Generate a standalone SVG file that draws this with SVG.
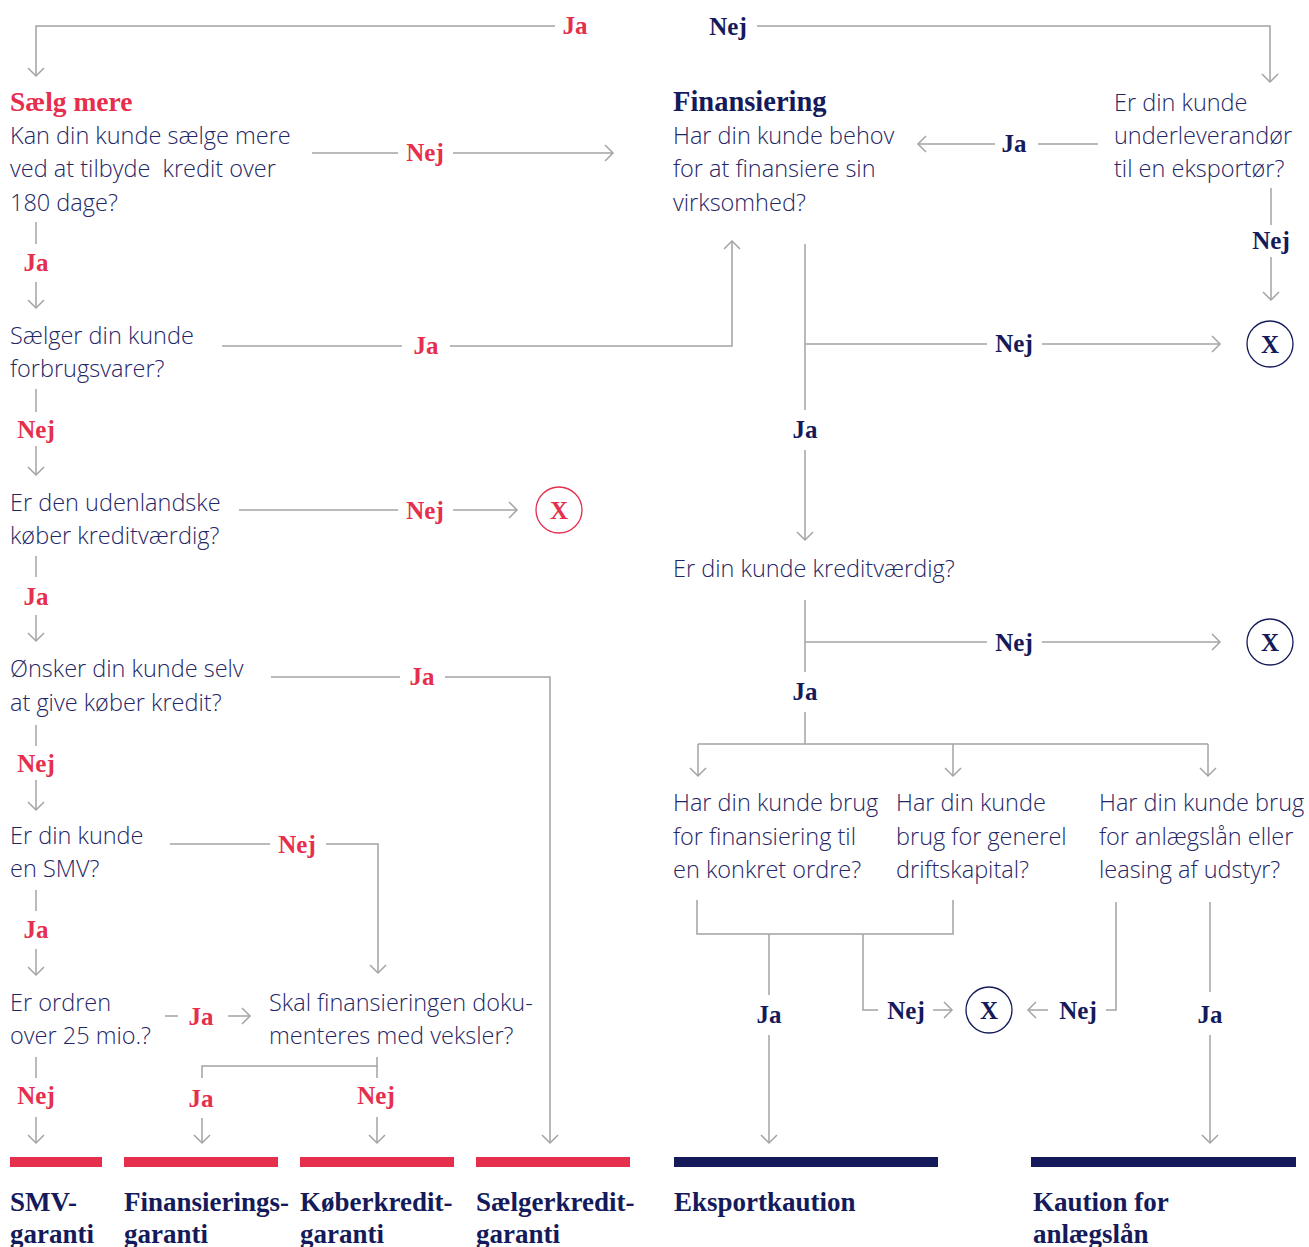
<svg xmlns="http://www.w3.org/2000/svg" width="1309" height="1247" viewBox="0 0 1309 1247">
<defs>
<style>
.t{font-family:"Open Sans","Noto Sans",sans-serif;font-weight:300;font-size:23.5px;fill:#1f2766}
.lb{font-family:"Liberation Serif",serif;font-weight:bold;font-size:25px;text-anchor:middle}
.r{fill:#e62e4d}
.n{fill:#141a5a}
.h{font-family:"Liberation Serif",serif;font-weight:bold;font-size:27px}
.c{fill:none;stroke:#a3a3a3;stroke-width:1.5}
.ca{fill:none;stroke:#a3a3a3;stroke-width:1.5;marker-end:url(#ar)}
.cr{fill:none;stroke-width:1.3}
</style>
<marker id="ar" viewBox="-10 -10 20 20" refX="0" refY="0" markerWidth="20" markerHeight="20" markerUnits="userSpaceOnUse" orient="auto" overflow="visible">
<path d="M-8,-8 L0,0 L-8,8" fill="none" stroke="#a3a3a3" stroke-width="1.5"/>
</marker>
</defs>
<rect width="1309" height="1247" fill="#fff"/>

<g id="connectors">
<path class="ca" d="M555,26 H36 V76"/>
<path class="ca" d="M757,26 H1270 V82"/>
<path class="c" d="M312,153 H398"/>
<path class="ca" d="M453,153 H613"/>
<path class="c" d="M1098,144 H1038"/>
<path class="ca" d="M995,144 H918"/>
<path class="c" d="M1271,188 V225"/>
<path class="ca" d="M1271,257 V300"/>
<path class="c" d="M36,222 V244"/>
<path class="ca" d="M36,282 V308"/>
<path class="c" d="M222,346 H402"/>
<path class="ca" d="M450,346 H732 V241"/>
<path class="c" d="M36,389 V412"/>
<path class="ca" d="M36,446 V475"/>
<path class="c" d="M239,510 H398"/>
<path class="ca" d="M453,510 H517"/>
<path class="c" d="M36,556 V577"/>
<path class="ca" d="M36,615 V641"/>
<path class="c" d="M271,677 H400"/>
<path class="ca" d="M445,677 H550 V1143"/>
<path class="c" d="M36,725 V746"/>
<path class="ca" d="M36,780 V810"/>
<path class="c" d="M170,844 H270"/>
<path class="ca" d="M326,844 H378 V973"/>
<path class="c" d="M36,890 V911"/>
<path class="ca" d="M36,949 V975"/>
<path class="c" d="M165,1016 H178"/>
<path class="ca" d="M228,1016 H250"/>
<path class="c" d="M202,1078 V1066 H377 V1057"/>
<path class="c" d="M377,1066 V1078"/>
<path class="c" d="M36,1057 V1078"/>
<path class="ca" d="M36,1117 V1143"/>
<path class="ca" d="M202,1118 V1143"/>
<path class="ca" d="M377,1117 V1143"/>
<path class="c" d="M805,244 V410"/>
<path class="ca" d="M805,450 V540"/>
<path class="c" d="M805,344 H987"/>
<path class="ca" d="M1042,344 H1220"/>
<path class="c" d="M805,600 V672"/>
<path class="c" d="M805,642 H987"/>
<path class="ca" d="M1042,642 H1220"/>
<path class="c" d="M805,712 V744"/>
<path class="c" d="M698,744 H1208"/>
<path class="ca" d="M698,744 V776"/>
<path class="ca" d="M953,744 V776"/>
<path class="ca" d="M1208,744 V776"/>
<path class="c" d="M697,900 V934 H953 V900"/>
<path class="c" d="M769,934 V995"/>
<path class="ca" d="M769,1035 V1143"/>
<path class="c" d="M863,934 V1010 H878"/>
<path class="ca" d="M933,1010 H952"/>
<path class="ca" d="M1048,1010 H1028"/>
<path class="c" d="M1106,1010 H1116 V902"/>
<path class="c" d="M1210,902 V992"/>
<path class="ca" d="M1210,1035 V1143"/>
</g>

<g id="labels">
<text class="lb r" x="575" y="34">Ja</text>
<text class="lb n" x="728" y="35">Nej</text>
<text class="lb r" x="425" y="161">Nej</text>
<text class="lb n" x="1014" y="152">Ja</text>
<text class="lb n" x="1271" y="249">Nej</text>
<text class="lb r" x="36" y="271">Ja</text>
<text class="lb r" x="426" y="354">Ja</text>
<text class="lb r" x="36" y="438">Nej</text>
<text class="lb r" x="425" y="519">Nej</text>
<text class="lb r" x="36" y="605">Ja</text>
<text class="lb r" x="422" y="685">Ja</text>
<text class="lb r" x="36" y="772">Nej</text>
<text class="lb r" x="297" y="853">Nej</text>
<text class="lb r" x="36" y="938">Ja</text>
<text class="lb r" x="201" y="1025">Ja</text>
<text class="lb r" x="36" y="1104">Nej</text>
<text class="lb r" x="201" y="1107">Ja</text>
<text class="lb r" x="376" y="1104">Nej</text>
<text class="lb n" x="1014" y="352">Nej</text>
<text class="lb n" x="805" y="438">Ja</text>
<text class="lb n" x="1014" y="651">Nej</text>
<text class="lb n" x="805" y="700">Ja</text>
<text class="lb n" x="769" y="1023">Ja</text>
<text class="lb n" x="906" y="1019">Nej</text>
<text class="lb n" x="1078" y="1019">Nej</text>
<text class="lb n" x="1210" y="1023">Ja</text>
</g>

<g id="saelg-mere">
<text class="h r" x="10" y="111" style="font-size:27.5px">Sælg mere</text>
<text class="t" x="10" y="144">Kan din kunde sælge mere</text>
<text class="t" x="10" y="177" xml:space="preserve">ved at tilbyde  kredit over</text>
<text class="t" x="10" y="211">180 dage?</text>
</g>
<g id="forbrugsvarer">
<text class="t" x="10" y="344">Sælger din kunde</text>
<text class="t" x="10" y="377">forbrugsvarer?</text>
</g>
<g id="udenlandske">
<text class="t" x="10" y="511">Er den udenlandske</text>
<text class="t" x="10" y="544">køber kreditværdig?</text>
</g>
<g id="x-red">
<circle class="cr" cx="559" cy="510" r="23" stroke="#e62e4d"/>
<text class="lb r" x="559" y="519">X</text>
</g>
<g id="oensker">
<text class="t" x="10" y="677">Ønsker din kunde selv</text>
<text class="t" x="10" y="711">at give køber kredit?</text>
</g>
<g id="smv">
<text class="t" x="10" y="844">Er din kunde</text>
<text class="t" x="10" y="877">en SMV?</text>
</g>
<g id="ordren">
<text class="t" x="10" y="1011">Er ordren</text>
<text class="t" x="10" y="1044">over 25 mio.?</text>
</g>
<g id="veksler">
<text class="t" x="269" y="1011">Skal finansieringen doku-</text>
<text class="t" x="269" y="1044">menteres med veksler?</text>
</g>

<g id="finansiering">
<text class="h n" x="673" y="111" style="font-size:28.5px">Finansiering</text>
<text class="t" x="673" y="144">Har din kunde behov</text>
<text class="t" x="673" y="177">for at finansiere sin</text>
<text class="t" x="673" y="211">virksomhed?</text>
</g>
<g id="underleverandoer">
<text class="t" x="1114" y="111">Er din kunde</text>
<text class="t" x="1114" y="144">underleverandør</text>
<text class="t" x="1114" y="177">til en eksportør?</text>
</g>
<g id="x-navy-1">
<circle class="cr" cx="1270" cy="344" r="23" stroke="#141a5a"/>
<text class="lb n" x="1270" y="353">X</text>
</g>
<g id="kreditvaerdig">
<text class="t" x="673" y="577">Er din kunde kreditværdig?</text>
</g>
<g id="x-navy-2">
<circle class="cr" cx="1270" cy="642" r="23" stroke="#141a5a"/>
<text class="lb n" x="1270" y="651">X</text>
</g>
<g id="konkret-ordre">
<text class="t" x="673" y="811">Har din kunde brug</text>
<text class="t" x="673" y="845">for finansiering til</text>
<text class="t" x="673" y="878">en konkret ordre?</text>
</g>
<g id="driftskapital">
<text class="t" x="896" y="811">Har din kunde</text>
<text class="t" x="896" y="845">brug for generel</text>
<text class="t" x="896" y="878">driftskapital?</text>
</g>
<g id="anlaegslaan-q">
<text class="t" x="1099" y="811">Har din kunde brug</text>
<text class="t" x="1099" y="845">for anlægslån eller</text>
<text class="t" x="1099" y="878">leasing af udstyr?</text>
</g>
<g id="x-navy-3">
<circle class="cr" cx="989" cy="1010" r="23" stroke="#141a5a"/>
<text class="lb n" x="989" y="1019">X</text>
</g>

<g id="smv-garanti">
<rect x="10" y="1157" width="92" height="10" fill="#e62e4d"/>
<text class="h n" x="10" y="1211">SMV-</text>
<text class="h n" x="10" y="1243">garanti</text>
</g>
<g id="finansieringsgaranti">
<rect x="124" y="1157" width="154" height="10" fill="#e62e4d"/>
<text class="h n" x="124" y="1211">Finansierings-</text>
<text class="h n" x="124" y="1243">garanti</text>
</g>
<g id="koeberkreditgaranti">
<rect x="300" y="1157" width="154" height="10" fill="#e62e4d"/>
<text class="h n" x="300" y="1211">Køberkredit-</text>
<text class="h n" x="300" y="1243">garanti</text>
</g>
<g id="saelgerkreditgaranti">
<rect x="476" y="1157" width="154" height="10" fill="#e62e4d"/>
<text class="h n" x="476" y="1211">Sælgerkredit-</text>
<text class="h n" x="476" y="1243">garanti</text>
</g>
<g id="eksportkaution">
<rect x="674" y="1157" width="264" height="10" fill="#141a5a"/>
<text class="h n" x="674" y="1211">Eksportkaution</text>
</g>
<g id="kaution-anlaegslaan">
<rect x="1031" y="1157" width="265" height="10" fill="#141a5a"/>
<text class="h n" x="1033" y="1211">Kaution for</text>
<text class="h n" x="1033" y="1243">anlægslån</text>
</g>
</svg>
